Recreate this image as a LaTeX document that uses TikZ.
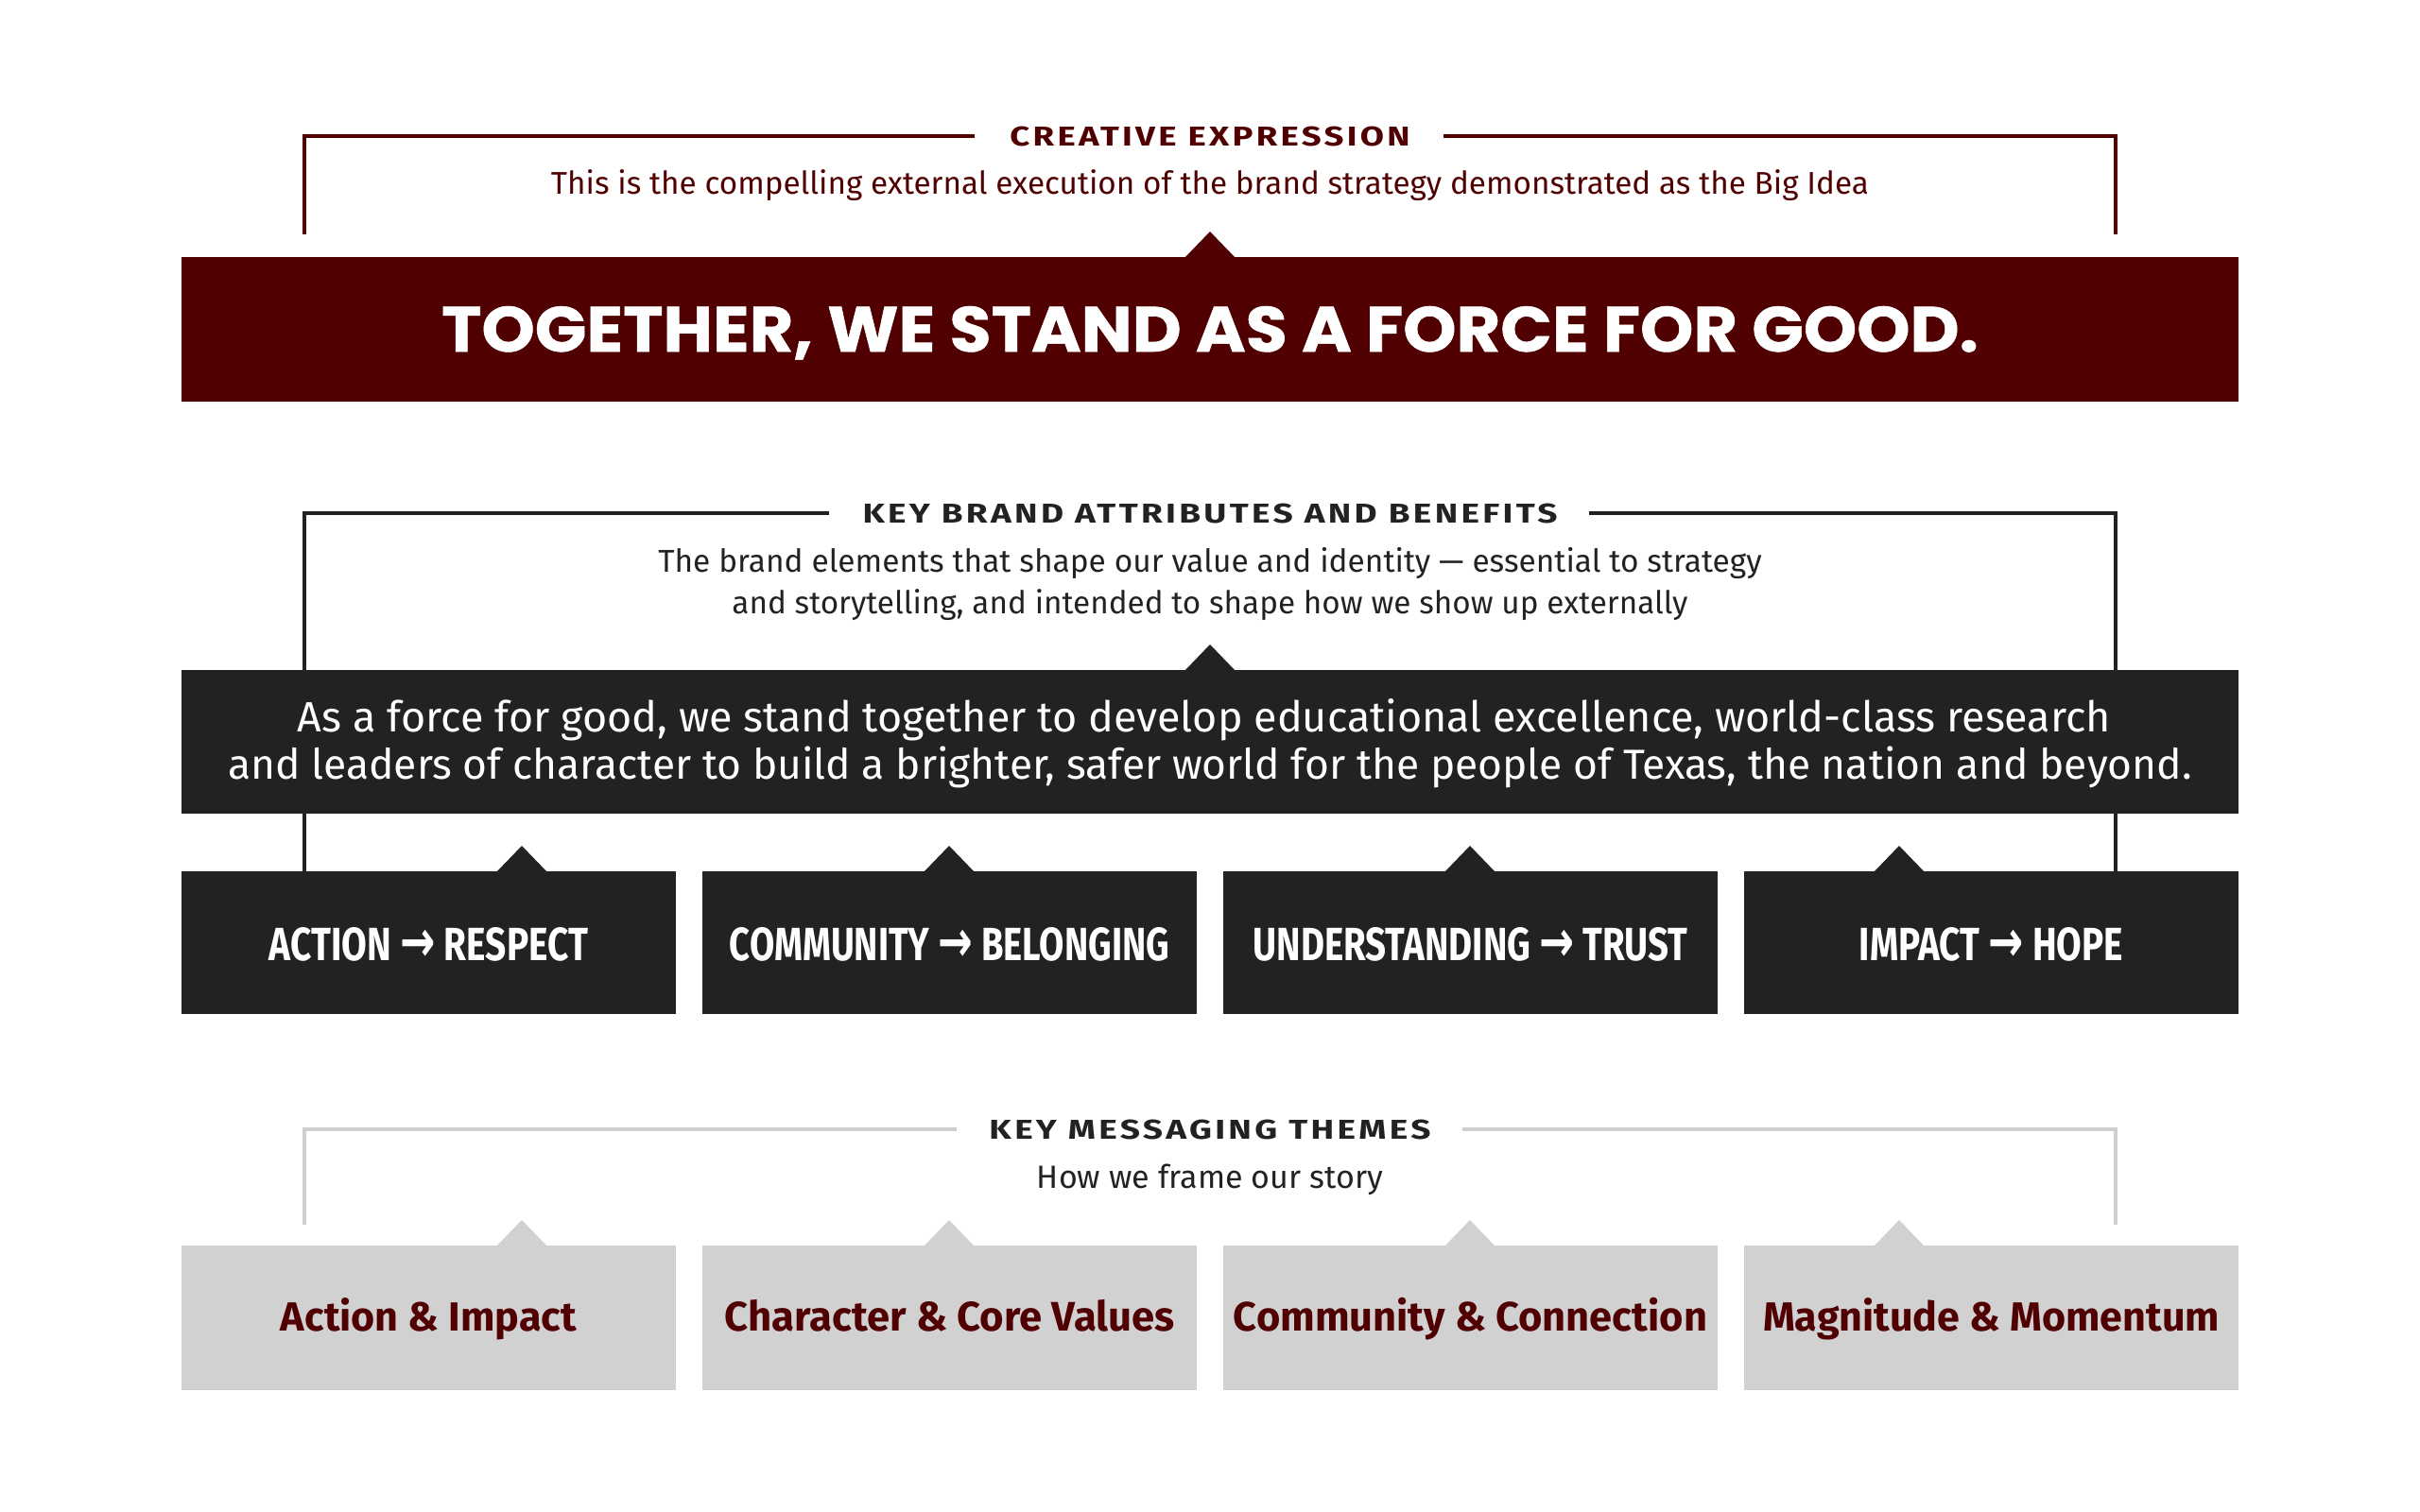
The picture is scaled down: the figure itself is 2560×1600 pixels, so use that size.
\documentclass[tikz,border=0pt]{standalone}
\usepackage{fontspec}
\usepackage{graphicx}
\usetikzlibrary{calc}
\definecolor{maroon}{HTML}{500000}
\definecolor{dark}{HTML}{222222}
\definecolor{lgray}{HTML}{D1D1D1}
\definecolor{lline}{HTML}{CFCFCF}
\newfontfamily\bodyf{Fira Sans}
\newfontfamily\titlef{Fira Sans}[LetterSpace=9]
\newcommand\titlefont{\titlef\bfseries}
\newfontfamily\headf{Poppins}[BoldFeatures={FakeBold=0.8}]
\newcommand\headfont{\headf\bfseries}
\newfontfamily\condf{Fira Sans}
\newcommand\condfont{\condf\bfseries}
\newfontfamily\semif{Fira Sans}
\newcommand\semifont{\semif\bfseries}
\newfontfamily\arrf{DejaVu Sans}
\newcommand\arr{{\arrf\bfseries\raisebox{-0.04em}{\scalebox{1.15}[1.25]{→}}}}
\newcommand\fitwh[3]{\resizebox{#1pt}{#2pt}{#3}}
\newcommand\fitw[2]{\resizebox{#1pt}{!}{#2}}
\newcommand\tri[3]{\fill[#1] ({#2-27},{#3+1}) -- (#2,{#3-27}) -- ({#2+27},{#3+1}) -- cycle;}
\begin{document}
\begin{tikzpicture}[x=1pt,y=-1pt,
  txt/.style={inner sep=0pt, outer sep=0pt, anchor=base},
  panel/.style={inner sep=0pt, outer sep=0pt, minimum width=2176pt, minimum height=#1},
  cell/.style={inner sep=0pt, outer sep=0pt, minimum width=523pt, minimum height=#1},
  br/.style={line width=3.3pt}]
\useasboundingbox (0,0) rectangle (2560,1600);
\fill[white] (0,0) rectangle (2560,1600);
% ---------- titles ----------
\node[txt, text=maroon] (t1) at (1280,154) {\fitwh{423}{20.5}{\titlefont CREATIVE EXPRESSION}};
\node[txt, text=maroon] (s1) at (1280,205) {\fitw{1394}{\bodyf This is the compelling external execution of the brand strategy demonstrated as the Big Idea}};
\node[txt, text=dark] (t2) at (1280,553) {\fitwh{735}{20.5}{\titlefont KEY BRAND ATTRIBUTES AND BENEFITS}};
\node[txt, text=dark] (s2a) at (1280,605) {\fitw{1167}{\bodyf The brand elements that shape our value and identity — essential to strategy}};
\node[txt, text=dark] (s2b) at (1280,649) {\fitw{1011}{\bodyf and storytelling, and intended to shape how we show up externally}};
\node[txt, text=dark] (t3) at (1280,1205) {\fitwh{467}{20.5}{\titlefont KEY MESSAGING THEMES}};
\node[txt, text=dark] (s3) at (1280,1257) {\fitw{366}{\bodyf How we frame our story}};
% ---------- bracket corners ----------
\coordinate (b1l) at (322,248);  \coordinate (b1r) at (2238,248);
\coordinate (b2l) at (322,922);  \coordinate (b2r) at (2238,922);
\coordinate (b3l) at (322,1296); \coordinate (b3r) at (2238,1296);
\draw[br, maroon] ($(t1.west)+(-37,0)$) -| (b1l);
\draw[br, maroon] ($(t1.east)+(35,0)$) -| (b1r);
\draw[br, dark] ($(t2.west)+(-36,0)$) -| (b2l);
\draw[br, dark] ($(t2.east)+(33,0)$) -| (b2r);
\draw[br, lline] ($(t3.west)+(-34,0)$) -| (b3l);
\draw[br, lline] ($(t3.east)+(33,0)$) -| (b3r);
% ---------- big idea ----------
\node[panel=153pt, fill=maroon] (m1) at (1280,348.5) {};
\tri{maroon}{1280}{272}
\node[txt, text=white] (h1) at (1280,372) {\fitwh{1625}{48}{\headfont TOGETHER, WE STAND AS A FORCE FOR GOOD.}};
% ---------- attributes ----------
\node[panel=152pt, fill=dark] (d1) at (1280,785) {};
\tri{dark}{1280}{709}
\node[txt, text=white] (d1a) at (1274,774) {\fitw{1918}{\bodyf As a force for good, we stand together to develop educational excellence, world-class research}};
\node[txt, text=white] (d1b) at (1280,824) {\fitw{2077}{\bodyf and leaders of character to build a brighter, safer world for the people of Texas, the nation and beyond.}};
\foreach \n/\cx in {a1/453.5, a2/1004.5, a3/1555.5, a4/2106.5}{
  \node[cell=151pt, fill=dark] (\n) at (\cx,997.5) {};
}
\foreach \tx in {552, 1004, 1555, 2009}{ \tri{dark}{\tx}{922} }
\node[txt, text=white] (a1t) at ($(a1.center)+(0,18.5)$) {\fitwh{337}{35}{\condfont ACTION \arr\ RESPECT}};
\node[txt, text=white] (a2t) at ($(a2.center)+(0,18.5)$) {\fitwh{465}{35}{\condfont COMMUNITY \arr\ BELONGING}};
\node[txt, text=white] (a3t) at ($(a3.center)+(0,18.5)$) {\fitwh{460}{35}{\condfont UNDERSTANDING \arr\ TRUST}};
\node[txt, text=white] (a4t) at ($(a4.center)+(0,18.5)$) {\fitwh{279}{35}{\condfont IMPACT \arr\ HOPE}};
% ---------- themes ----------
\foreach \n/\cx in {c1/453.5, c2/1004.5, c3/1555.5, c4/2106.5}{
  \node[cell=153pt, fill=lgray] (\n) at (\cx,1394.5) {};
}
\foreach \tx in {552, 1004, 1555, 2009}{ \tri{lgray}{\tx}{1318} }
\node[txt, text=maroon] (c1t) at ($(c1.center)+(0,13.5)$) {\fitw{313}{\semifont Action \& Impact}};
\node[txt, text=maroon] (c2t) at ($(c2.center)+(0,13.5)$) {\fitw{476}{\semifont Character \& Core Values}};
\node[txt, text=maroon] (c3t) at ($(c3.center)+(0,13.5)$) {\fitw{501}{\semifont Community \& Connection}};
\node[txt, text=maroon] (c4t) at ($(c4.center)+(0,13.5)$) {\fitw{483}{\semifont Magnitude \& Momentum}};
\end{tikzpicture}
\end{document}
